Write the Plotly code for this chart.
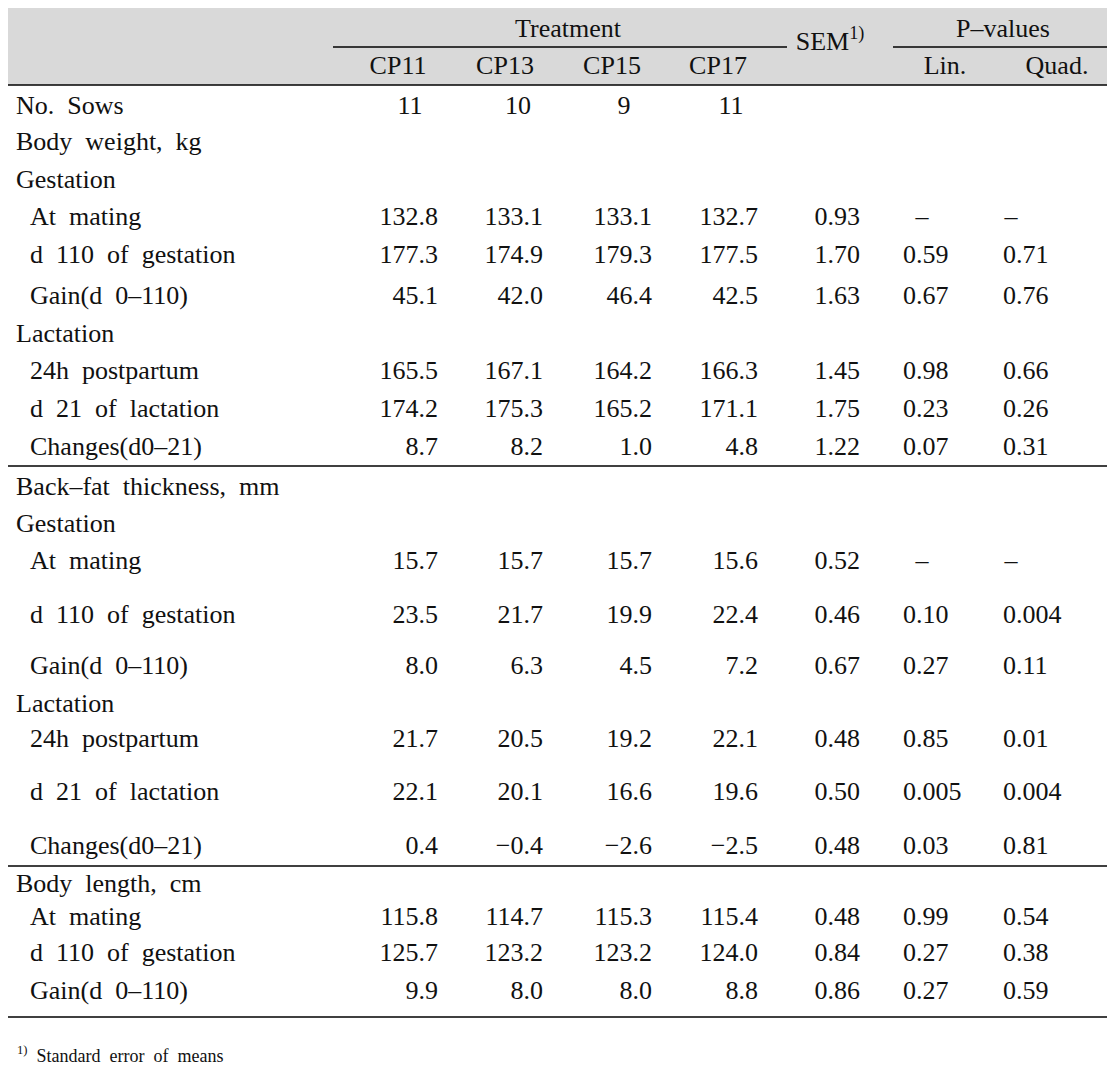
import plotly.graph_objects as go

# table content
labels = ["No. Sows", "Body weight, kg", "Gestation", " At mating", " d 110 of gestation",
          " Gain(d 0\u2013110)", "Lactation", " 24h postpartum", " d 21 of lactation", " Changes(d0\u201321)",
          "Back\u2013fat thickness, mm", "Gestation", " At mating", " d 110 of gestation",
          " Gain(d 0\u2013110)", "Lactation", " 24h postpartum", " d 21 of lactation", " Changes(d0\u201321)",
          "Body length, cm", " At mating", " d 110 of gestation", " Gain(d 0\u2013110)"]
cp11 = ["11", "", "", "132.8", "177.3", "45.1", "", "165.5", "174.2", "8.7",
        "", "", "15.7", "23.5", "8.0", "", "21.7", "22.1", "0.4",
        "", "115.8", "125.7", "9.9"]
cp13 = ["10", "", "", "133.1", "174.9", "42.0", "", "167.1", "175.3", "8.2",
        "", "", "15.7", "21.7", "6.3", "", "20.5", "20.1", "\u22120.4",
        "", "114.7", "123.2", "8.0"]
cp15 = ["9", "", "", "133.1", "179.3", "46.4", "", "164.2", "165.2", "1.0",
        "", "", "15.7", "19.9", "4.5", "", "19.2", "16.6", "\u22122.6",
        "", "115.3", "123.2", "8.0"]
cp17 = ["11", "", "", "132.7", "177.5", "42.5", "", "166.3", "171.1", "4.8",
        "", "", "15.6", "22.4", "7.2", "", "22.1", "19.6", "\u22122.5",
        "", "115.4", "124.0", "8.8"]
sem = ["", "", "", "0.93", "1.70", "1.63", "", "1.45", "1.75", "1.22",
       "", "", "0.52", "0.46", "0.67", "", "0.48", "0.50", "0.48",
       "", "0.48", "0.84", "0.86"]
p_lin = ["", "", "", "\u2013", "0.59", "0.67", "", "0.98", "0.23", "0.07",
         "", "", "\u2013", "0.10", "0.27", "", "0.85", "0.005", "0.03",
         "", "0.99", "0.27", "0.27"]
p_quad = ["", "", "", "\u2013", "0.71", "0.76", "", "0.66", "0.26", "0.31",
          "", "", "\u2013", "0.004", "0.11", "", "0.01", "0.004", "0.81",
          "", "0.54", "0.38", "0.59"]
treatments = ["CP11", "CP13", "CP15", "CP17"]
footnote = "Standard error of means"

# page geometry (the page body adds an 8px margin, so axes use page pixels)
W, H, PAD = 1115, 1077, 8
first_row = 107
row_gaps = [36, 38, 37, 38, 41, 38, 37, 38, 38,
            40, 37, 37, 54, 51, 38, 35, 53, 54,
            38, 33, 36, 38]
row_y = [first_row]
for g in row_gaps:
    row_y.append(row_y[-1] + g)

FONT = "Liberation Serif"
FS = 26
INK = "#111111"
WIDE = "\u2002"  # the source font has wide word spaces

fig = go.Figure()


def add_text(xs, ys, texts, pos, size=FS):
    fig.add_trace(go.Scatter(
        x=xs, y=ys, text=[t.replace(" ", WIDE) for t in texts], mode="text", textposition=pos,
        textfont=dict(family=FONT, size=size, color=INK),
        hoverinfo="skip", showlegend=False))


# row labels
lab_x = [30 if l.startswith(" ") else 16 for l in labels]
add_text(lab_x, row_y, [l.strip() for l in labels], "middle right")

# treatment columns: right aligned, except counts (centred)
col_right = [438, 543, 652, 758]
col_mid = [410, 518, 624, 731]
for vals, xr, xm in zip([cp11, cp13, cp15, cp17], col_right, col_mid):
    dec = [(y, v) for y, v in zip(row_y, vals) if v and "." in v]
    cnt = [(y, v) for y, v in zip(row_y, vals) if v and "." not in v]
    add_text([xr] * len(dec), [d[0] for d in dec], [d[1] for d in dec], "middle left")
    add_text([xm] * len(cnt), [c[0] for c in cnt], [c[1] for c in cnt], "middle center")

# SEM
s = [(y, v) for y, v in zip(row_y, sem) if v]
add_text([860] * len(s), [a[0] for a in s], [a[1] for a in s], "middle left")

# P-values, left aligned; dashes centred
for vals, xl, xd in [(p_lin, 903, 922), (p_quad, 1003, 1011)]:
    num = [(y, v) for y, v in zip(row_y, vals) if v and v != "\u2013"]
    dash = [(y, v) for y, v in zip(row_y, vals) if v == "\u2013"]
    add_text([xl] * len(num), [a[0] for a in num], [a[1] for a in num], "middle right")
    add_text([xd] * len(dash), [a[0] for a in dash], [a[1] for a in dash], "middle center")

# header
add_text([568, 1003], [30, 30], ["Treatment", "P\u2013values"], "middle center")
add_text([398, 505, 612, 718], [67] * 4, treatments, "middle center")
add_text([945, 1057], [67, 67], ["Lin.", "Quad."], "middle center")
add_text([830], [43], ["SEM<sup>1)</sup>"], "middle center")

# footnote
add_text([17], [1057], ["<sup>1)</sup> " + footnote], "middle right", size=18)

# rules and header shading
shapes = [
    dict(type="rect", x0=PAD, x1=W, y0=7, y1=85, fillcolor="#d9d9d9", line_width=0, layer="below"),
]
for y in [7, 85, 466, 866, 1017]:
    shapes.append(dict(type="line", x0=PAD, x1=W, y0=y, y1=y, line=dict(color="black", width=1.5)))
for x0, x1 in [(333, 787), (893, W)]:
    shapes.append(dict(type="line", x0=x0, x1=x1, y0=47, y1=47, line=dict(color="black", width=1.5)))

fig.update_layout(
    width=W - PAD, height=H - PAD,
    margin=dict(l=0, r=0, t=0, b=0),
    paper_bgcolor="white", plot_bgcolor="white",
    xaxis=dict(range=[PAD, W], visible=False, fixedrange=True),
    yaxis=dict(range=[H, PAD], visible=False, fixedrange=True),
    shapes=shapes,
)

fig.write_html("out.html")
